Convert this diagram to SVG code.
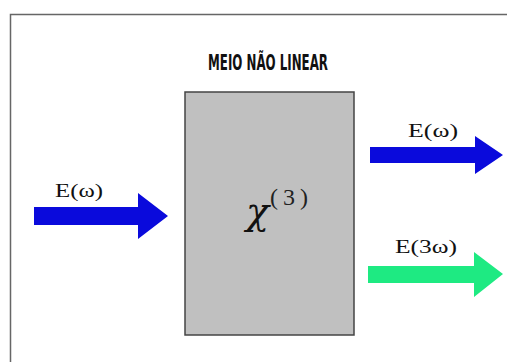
<svg xmlns="http://www.w3.org/2000/svg" width="507" height="362" viewBox="0 0 507 362">
<style>
.lbl{font-family:"Liberation Serif","Times New Roman",serif;font-size:18px;fill:#111}
.title{font-family:"DejaVu Sans Condensed","DejaVu Sans",sans-serif;font-weight:bold;font-size:22px;fill:#111}
.chi{font-family:"DejaVu Serif",serif;font-style:italic;font-size:38px;fill:#111}
.sup{font-family:"Liberation Serif","Times New Roman",serif;font-size:24px;fill:#222}
.blue{fill:#0a0adc}
.green{fill:#1eea82}
</style>
<rect width="507" height="362" fill="#fff"/>
<path d="M10.5 362 V14.5 H507" fill="none" stroke="#666" stroke-width="1.5"/>
<g id="medium">
<text class="title" x="268" y="69.5" text-anchor="middle" textLength="120" lengthAdjust="spacingAndGlyphs">MEIO NÃO LINEAR</text>
<rect x="185" y="92" width="169" height="243" fill="#c0c0c0" stroke="#444" stroke-width="1.5"/>
<text class="chi" x="246" y="224">χ</text>
<text class="sup" x="270" y="205" textLength="38" lengthAdjust="spacing">(3)</text>
</g>
<g id="connectors">
<g id="in-omega">
<polygon class="blue" points="34,207 138,207 138,193 168,216 138,239 138,225 34,225"/>
<text class="lbl" x="55" y="197" textLength="48" lengthAdjust="spacingAndGlyphs">E(ω)</text>
</g>
<g id="out-omega">
<polygon class="blue" points="370,147 475,147 475,136 503,155 475,174 475,163 370,163"/>
<text class="lbl" x="408" y="137" textLength="50" lengthAdjust="spacingAndGlyphs">E(ω)</text>
</g>
<g id="out-3omega">
<polygon class="green" points="368,266 474,266 474,252 503,274 474,297 474,283 368,283"/>
<text class="lbl" x="395" y="253" textLength="62" lengthAdjust="spacingAndGlyphs">E(3ω)</text>
</g>
</g>
</svg>
